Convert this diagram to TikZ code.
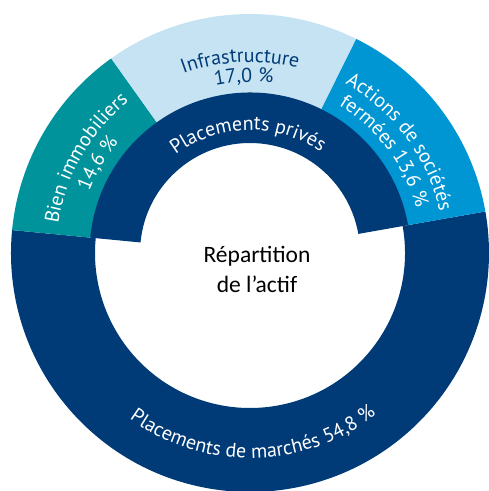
\documentclass[tikz,border=0pt]{standalone}
\usepackage{fontspec}
\setmainfont{Carlito}
\newfontfamily\labelfont{PT Sans}
\usetikzlibrary{decorations.text}
\definecolor{navy}{RGB}{0,59,119}
\definecolor{tealc}{RGB}{0,147,155}
\definecolor{lightb}{RGB}{197,227,242}
\definecolor{midb}{RGB}{0,149,211}
\newcommand\ringseg[5]{% color, start, end, inner, outer
  \fill[#1] (#2:#5pt) arc[start angle=#2,end angle=#3,radius=#5pt]
    -- (#3:#4pt) arc[start angle=#3,end angle=#2,radius=#4pt] -- cycle;}
\newcommand\cwtext[5]{% radius, centre angle, half span, format, text
  \path[decorate,decoration={text along path,text align=center,text={|#4|#5}}]
    ({#2+#3}:#1pt) arc[start angle={#2+#3},end angle={#2-#3},radius=#1pt];}
\newcommand\lblfont{\labelfont\fontsize{20}{24}\selectfont}
\begin{document}
\begin{tikzpicture}
\useasboundingbox (-250pt,-238pt) rectangle (239pt,253pt);
% market investments (lower ring)
\ringseg{navy}{174.5}{370}{155}{239}
% private segments
\ringseg{tealc}{125.5}{174.5}{160}{239}
\ringseg{lightb}{63.6}{125.5}{160}{239}
\ringseg{midb}{10}{63.6}{160}{239}
% private investments inner arc
\ringseg{navy}{10}{174.5}{110}{160.5}
% labels
\cwtext{191}{93}{40}{\lblfont\color{navy}}{Infrastructure}
\cwtext{171}{92}{40}{\lblfont\color{navy}}{17,0 {\%}}
\cwtext{194}{150}{40}{\lblfont\color{white}}{Bien immobiliers}
\cwtext{172}{149.5}{40}{\lblfont\color{white}}{14,6 {\%}}
\cwtext{194}{36.5}{40}{\lblfont\color{white}}{Actions de sociétés}
\cwtext{172}{37}{40}{\lblfont\color{white}}{fermées 13,6 {\%}}
\cwtext{123}{91}{60}{\lblfont\color{white}}{Placements privés}
\path[decorate,decoration={text along path,text align=center,
  text={|\lblfont\color{white}|Placements de marchés 54,8 {\%}}}]
  (201:205pt) arc[start angle=201,end angle=341,radius=205pt];
\node[font=\fontsize{23.5}{30}\selectfont,align=center,inner sep=0pt] (centre) at (7pt,-16pt) {Répartition\\de l’actif};
\end{tikzpicture}
\end{document}
